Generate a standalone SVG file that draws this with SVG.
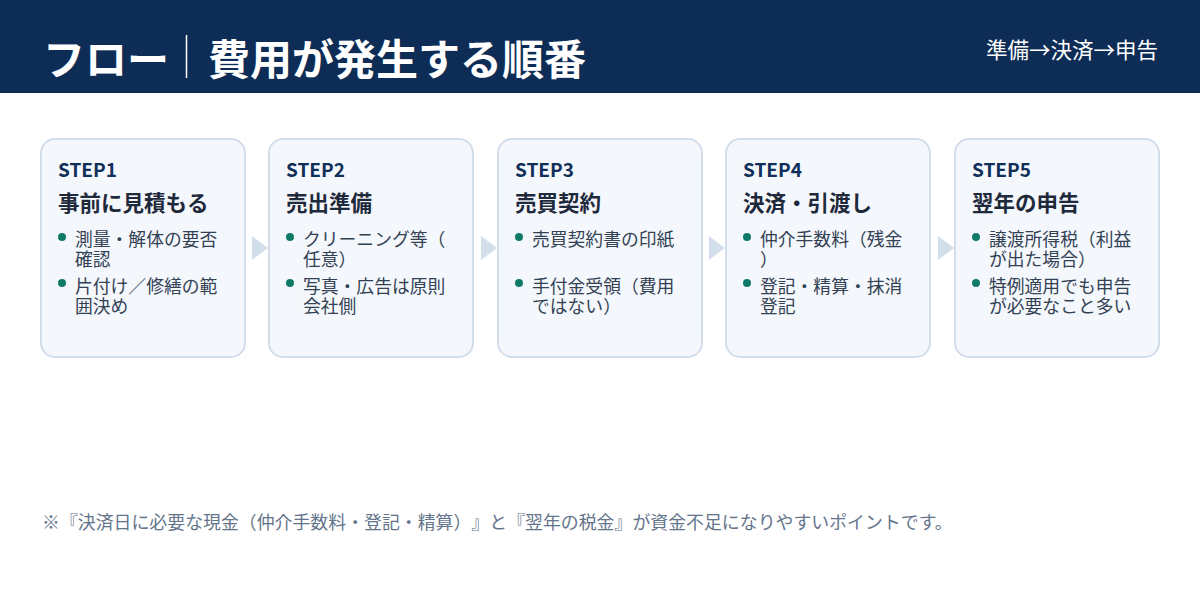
<svg xmlns="http://www.w3.org/2000/svg" width="1200" height="600" viewBox="0 0 1200 600">
<style>
text{font-family:"Noto Sans CJK JP","Noto Sans",sans-serif;text-spacing-trim:space-all}
.card{fill:#f4f7fb;stroke:#d3deeb;stroke-width:2}
.step{font-size:19px;font-weight:700;fill:#10305a}
.ttl{font-size:21.5px;font-weight:700;fill:#1e293b}
.item{font-size:17.8px;fill:#334155}
.dot{fill:#0f7a68}
.arr{fill:#d3deeb}
</style>
<rect x="0" y="0" width="1200" height="93" fill="#0e2d56"/>
<text x="43" y="75" font-size="42" font-weight="700" fill="#ffffff">フロー</text>
<line x1="186.5" y1="35" x2="186.5" y2="78" stroke="#ffffff" stroke-width="1.5"/>
<text x="208" y="75" font-size="42" font-weight="700" fill="#ffffff">費用が発生する順番</text>
<text x="1158" y="58" font-size="21.5" fill="#ffffff" text-anchor="end">準備→決済→申告</text>
<g id="connectors">
<polygon class="arr" points="252,236 268,248 252,260"/>
<polygon class="arr" points="481,236 497,248 481,260"/>
<polygon class="arr" points="709,236 725,248 709,260"/>
<polygon class="arr" points="938,236 954,248 938,260"/>
</g>
<g id="step1">
<rect class="card" x="41" y="139" width="204" height="218" rx="14"/>
<text class="step" x="58" y="177">STEP1</text>
<text class="ttl" x="58" y="211">事前に見積もる</text>
<circle class="dot" cx="62" cy="237" r="4"/>
<text class="item" x="75" y="246">測量・解体の要否</text>
<text class="item" x="75" y="266">確認</text>
<circle class="dot" cx="62" cy="283" r="4"/>
<text class="item" x="75" y="293">片付け／修繕の範</text>
<text class="item" x="75" y="313">囲決め</text>
</g>
<g id="step2">
<rect class="card" x="269" y="139" width="204" height="218" rx="14"/>
<text class="step" x="286" y="177">STEP2</text>
<text class="ttl" x="286" y="211">売出準備</text>
<circle class="dot" cx="290" cy="237" r="4"/>
<text class="item" x="303" y="246">クリーニング等（</text>
<text class="item" x="303" y="266">任意）</text>
<circle class="dot" cx="290" cy="283" r="4"/>
<text class="item" x="303" y="293">写真・広告は原則</text>
<text class="item" x="303" y="313">会社側</text>
</g>
<g id="step3">
<rect class="card" x="498" y="139" width="204" height="218" rx="14"/>
<text class="step" x="515" y="177">STEP3</text>
<text class="ttl" x="515" y="211">売買契約</text>
<circle class="dot" cx="519" cy="237" r="4"/>
<text class="item" x="532" y="246">売買契約書の印紙</text>
<circle class="dot" cx="519" cy="283" r="4"/>
<text class="item" x="532" y="293">手付金受領（費用</text>
<text class="item" x="532" y="313">ではない）</text>
</g>
<g id="step4">
<rect class="card" x="726" y="139" width="204" height="218" rx="14"/>
<text class="step" x="743" y="177">STEP4</text>
<text class="ttl" x="743" y="211">決済・引渡し</text>
<circle class="dot" cx="747" cy="237" r="4"/>
<text class="item" x="760" y="246">仲介手数料（残金</text>
<text class="item" x="760" y="266">）</text>
<circle class="dot" cx="747" cy="283" r="4"/>
<text class="item" x="760" y="293">登記・精算・抹消</text>
<text class="item" x="760" y="313">登記</text>
</g>
<g id="step5">
<rect class="card" x="955" y="139" width="204" height="218" rx="14"/>
<text class="step" x="972" y="177">STEP5</text>
<text class="ttl" x="972" y="211">翌年の申告</text>
<circle class="dot" cx="976" cy="237" r="4"/>
<text class="item" x="989" y="246">譲渡所得税（利益</text>
<text class="item" x="989" y="266">が出た場合）</text>
<circle class="dot" cx="976" cy="283" r="4"/>
<text class="item" x="989" y="293">特例適用でも申告</text>
<text class="item" x="989" y="313">が必要なこと多い</text>
</g>
<text x="42" y="529" font-size="17.9" fill="#64748b">※『決済日に必要な現金（仲介手数料・登記・精算）』と『翌年の税金』が資金不足になりやすいポイントです。</text>
</svg>
